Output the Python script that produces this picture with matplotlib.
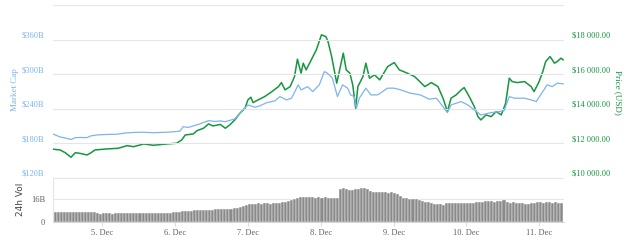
import matplotlib
matplotlib.use("Agg")
import matplotlib.pyplot as plt
import numpy as np

# Market cap (billions USD), day of December
cap_days = [4.33, 4.42, 4.49, 4.57, 4.63, 4.70, 4.79, 4.84, 4.93, 5.06, 5.20, 5.32, 5.43,
            5.56, 5.70, 5.89, 6.00, 6.07, 6.11, 6.18, 6.25, 6.34, 6.41, 6.46, 6.55, 6.62,
            6.69, 6.75, 6.82, 6.91, 7.00, 7.10, 7.16, 7.26, 7.37, 7.44, 7.53, 7.60, 7.69,
            7.73, 7.82, 7.89, 7.98, 8.05, 8.09, 8.16, 8.23, 8.30, 8.37, 8.41, 8.46, 8.49,
            8.53, 8.62, 8.69, 8.78, 8.92, 9.01, 9.10, 9.23, 9.37, 9.49, 9.59, 9.65, 9.74,
            9.79, 9.93, 10.02, 10.11, 10.20, 10.34, 10.45, 10.52, 10.59, 10.66, 10.80,
            10.89, 10.96, 11.02, 11.11, 11.18, 11.25, 11.33]
cap_vals = [195.5, 190.8, 189.0, 186.4, 189.6, 189.9, 189.6, 192.5, 194.3, 195.1, 195.5,
            197.7, 198.6, 199.0, 198.1, 199.0, 200.0, 201.2, 208.7, 207.3, 209.9, 213.4,
            216.9, 219.1, 217.7, 218.6, 217.4, 219.5, 222.1, 234.8, 246.4, 242.4, 244.7,
            250.4, 253.4, 260.9, 255.1, 258.1, 281.2, 272.5, 278.2, 269.6, 281.2, 304.3,
            301.6, 292.9, 260.9, 281.2, 275.5, 263.8, 260.9, 240.7, 258.1, 275.5, 263.8,
            263.8, 275.5, 275.5, 272.5, 266.8, 263.8, 256.3, 258.1, 248.2, 233.0, 246.4,
            252.2, 246.4, 237.7, 229.0, 233.0, 234.8, 236.5, 260.9, 258.1, 258.1, 255.1,
            252.2, 263.8, 281.2, 278.2, 284.2, 283.0]

# Price (USD)
price_days = [4.33, 4.42, 4.49, 4.57, 4.63, 4.70, 4.79, 4.84, 4.90, 5.06, 5.22, 5.34,
              5.43, 5.57, 5.70, 5.89, 6.02, 6.09, 6.14, 6.25, 6.30, 6.39, 6.46, 6.52,
              6.62, 6.69, 6.75, 6.82, 6.89, 6.96, 7.00, 7.04, 7.07, 7.14, 7.23, 7.33,
              7.42, 7.46, 7.51, 7.58, 7.64, 7.68, 7.73, 7.76, 7.80, 7.87, 7.94, 8.01,
              8.07, 8.10, 8.15, 8.22, 8.26, 8.31, 8.35, 8.40, 8.44, 8.48, 8.51, 8.58,
              8.62, 8.67, 8.74, 8.81, 8.92, 9.01, 9.08, 9.17, 9.29, 9.36, 9.43, 9.52,
              9.61, 9.68, 9.74, 9.79, 9.86, 9.93, 9.97, 10.04, 10.11, 10.16, 10.20,
              10.27, 10.34, 10.41, 10.48, 10.54, 10.59, 10.63, 10.70, 10.80, 10.89,
              10.93, 11.00, 11.05, 11.09, 11.15, 11.21, 11.25, 11.30, 11.33]
price_vals = [11646, 11606, 11449, 11183, 11449, 11403, 11316, 11432, 11606, 11664, 11704,
              11855, 11797, 11954, 11878, 11954, 11994, 12186, 12475, 12533, 12725, 12864,
              13113, 12997, 13084, 12864, 13055, 13345, 13733, 14023, 14504, 14661, 14348,
              14504, 14696, 14985, 15275, 15507, 15084, 15275, 15855, 16864, 16052, 16632,
              16243, 16823, 17403, 18272, 18174, 17884, 17014, 15472, 16243, 17212, 16243,
              16052, 15374, 14023, 15275, 15855, 16632, 15762, 15954, 15664, 16435, 16667,
              16243, 16087, 15855, 15565, 15275, 15507, 15275, 14603, 13826, 14603, 14794,
              15084, 15217, 14696, 14116, 13536, 13345, 13635, 13536, 13826, 13635, 14313,
              15762, 15565, 15507, 15565, 15275, 14985, 15565, 16145, 16725, 17014, 16632,
              16725, 16922, 16823]

# 24h volume (billions USD), hourly from 4 Dec 08:00
vol_vals = [6.9, 7.0, 6.8, 6.9, 7.0, 7.1, 6.9, 6.8, 7.0, 7.1, 7.0, 6.9, 7.0, 6.9, 5.9, 5.8,
            5.9, 6.0, 5.9, 5.8, 5.9, 6.0, 5.9, 5.9,
            6.0, 5.9, 6.0, 6.1, 6.0, 6.0, 6.1, 6.2, 6.1, 6.2, 6.3, 6.2, 6.3, 6.2, 6.4, 6.6,
            6.8, 7.0, 7.3, 7.6, 7.9, 8.0, 8.2, 8.3,
            8.4, 8.5, 8.6, 8.5, 8.7, 8.8, 9.0, 9.1, 9.2, 9.1, 9.3, 9.8, 10.0, 10.8, 11.5,
            11.8, 12.6, 13.0, 12.9, 13.1, 13.0, 13.2, 13.1, 13.0,
            13.3, 13.4, 13.6, 14.0, 14.2, 14.5, 15.5, 16.2, 17.3, 17.5, 17.6, 17.4, 17.8,
            17.5, 17.3, 17.6, 17.2, 17.4, 17.0, 16.9, 17.1, 17.2, 23.5, 23.8,
            23.3, 22.8, 23.0, 23.2, 23.6, 24.0, 24.2, 23.4, 22.3, 21.6, 21.3, 21.5, 21.2,
            21.0, 20.8, 21.0, 20.5, 19.8, 18.5, 17.2, 16.8, 16.5, 16.3, 16.0,
            15.2, 14.8, 14.3, 13.8, 13.4, 13.0, 12.8, 12.4, 12.2, 13.3, 13.6, 13.4, 13.5,
            13.7, 13.5, 13.3, 13.4, 13.6, 13.5, 14.1, 14.4, 14.3, 14.6, 14.5,
            14.6, 14.4, 14.7, 14.5, 15.6, 14.2, 13.6, 14.2, 13.3, 13.1, 13.2, 13.0, 12.9,
            13.1, 13.6, 13.8, 13.9, 13.7, 13.8, 13.9, 13.7, 13.8, 13.6, 13.5]
vol_start = 4.33

day_ticks = [5, 6, 7, 8, 9, 10, 11]
cap_ticks = [120, 180, 240, 300, 360]
price_ticks = [10000, 12000, 14000, 16000, 18000]

BLUE = "#7cb5ec"
GREEN = "#16963f"
GRID = "#e6e6e6"
FONT = "Liberation Serif"

fig = plt.figure(figsize=(6.4, 2.4), dpi=100)
ax = fig.add_axes([0.0833, 0.2596, 0.798, 0.7196])
ax2 = ax.twinx()
axv = fig.add_axes([0.0833, 0.0763, 0.798, 0.1833])

x0, x1 = 4.327, 11.342

ax.plot(cap_days, cap_vals, color=BLUE, lw=0.9, zorder=3)
ax2.plot(price_days, price_vals, color=GREEN, lw=1.1, zorder=4)
ax.set_xlim(x0, x1)
ax.set_ylim(120, 420)
ax2.set_ylim(10000, 20000)
ax.set_zorder(ax2.get_zorder() + 1)
ax.patch.set_visible(False)

for y in [120, 180, 240, 300, 360, 420]:
    ax.axhline(y, color=GRID, lw=0.8, zorder=0)
for a in (ax, ax2):
    for s in a.spines.values():
        s.set_visible(False)
    a.set_xticks([])
ax.set_yticks([])
ax2.set_yticks([])

for v in cap_ticks:
    ax.text(-0.018, v, "$%dB" % v, transform=ax.get_yaxis_transform(), ha="right",
            va="bottom", fontsize=6, color=BLUE, family=FONT)
for v in price_ticks:
    ax2.text(1.016, v, "$%s.00" % format(v, ",").replace(",", " "),
             transform=ax2.get_yaxis_transform(), ha="left", va="bottom",
             fontsize=6, color=GREEN, family=FONT)

fig.text(15 / 640, 1 - 90 / 240, "Market Cap", rotation=90, ha="center", va="center",
         fontsize=6.5, color=BLUE, family=FONT)
fig.text(618 / 640, 1 - 92 / 240, "Price (USD)", rotation=270, ha="center", va="center",
         fontsize=6.5, color=GREEN, family=FONT)

# volume panel
vol_days = vol_start + np.arange(len(vol_vals)) / 24 + 1 / 48
axv.bar(vol_days, vol_vals, width=1 / 24, color="#8a8a8a", edgecolor="white", lw=0.3)
axv.set_xlim(x0, x1)
axv.set_ylim(0, 31.5)
axv.axhline(16, color=GRID, lw=0.8, zorder=0)
axv.axhline(31.5, color=GRID, lw=0.8, zorder=0)
for k in ["top", "right"]:
    axv.spines[k].set_visible(False)
axv.spines["left"].set_color(GRID)
axv.spines["bottom"].set_color("#cccccc")
axv.spines["left"].set_linewidth(0.8)
axv.spines["bottom"].set_linewidth(0.6)
axv.set_yticks([0, 16])
axv.set_yticklabels(["0", "16B"], family=FONT, fontsize=6, color="#606060")
axv.tick_params(axis="y", length=0, pad=6)
axv.set_xticks(day_ticks)
axv.set_xticklabels(["%d. Dec" % d for d in day_ticks], family=FONT, fontsize=6,
                    color="#606060")
axv.tick_params(axis="x", length=3, width=0.5, color="#cccccc", pad=2)
axv.set_ylabel("24h Vol", fontsize=6.5, color="#444444", labelpad=4)

fig.savefig("out.png", dpi=100)
